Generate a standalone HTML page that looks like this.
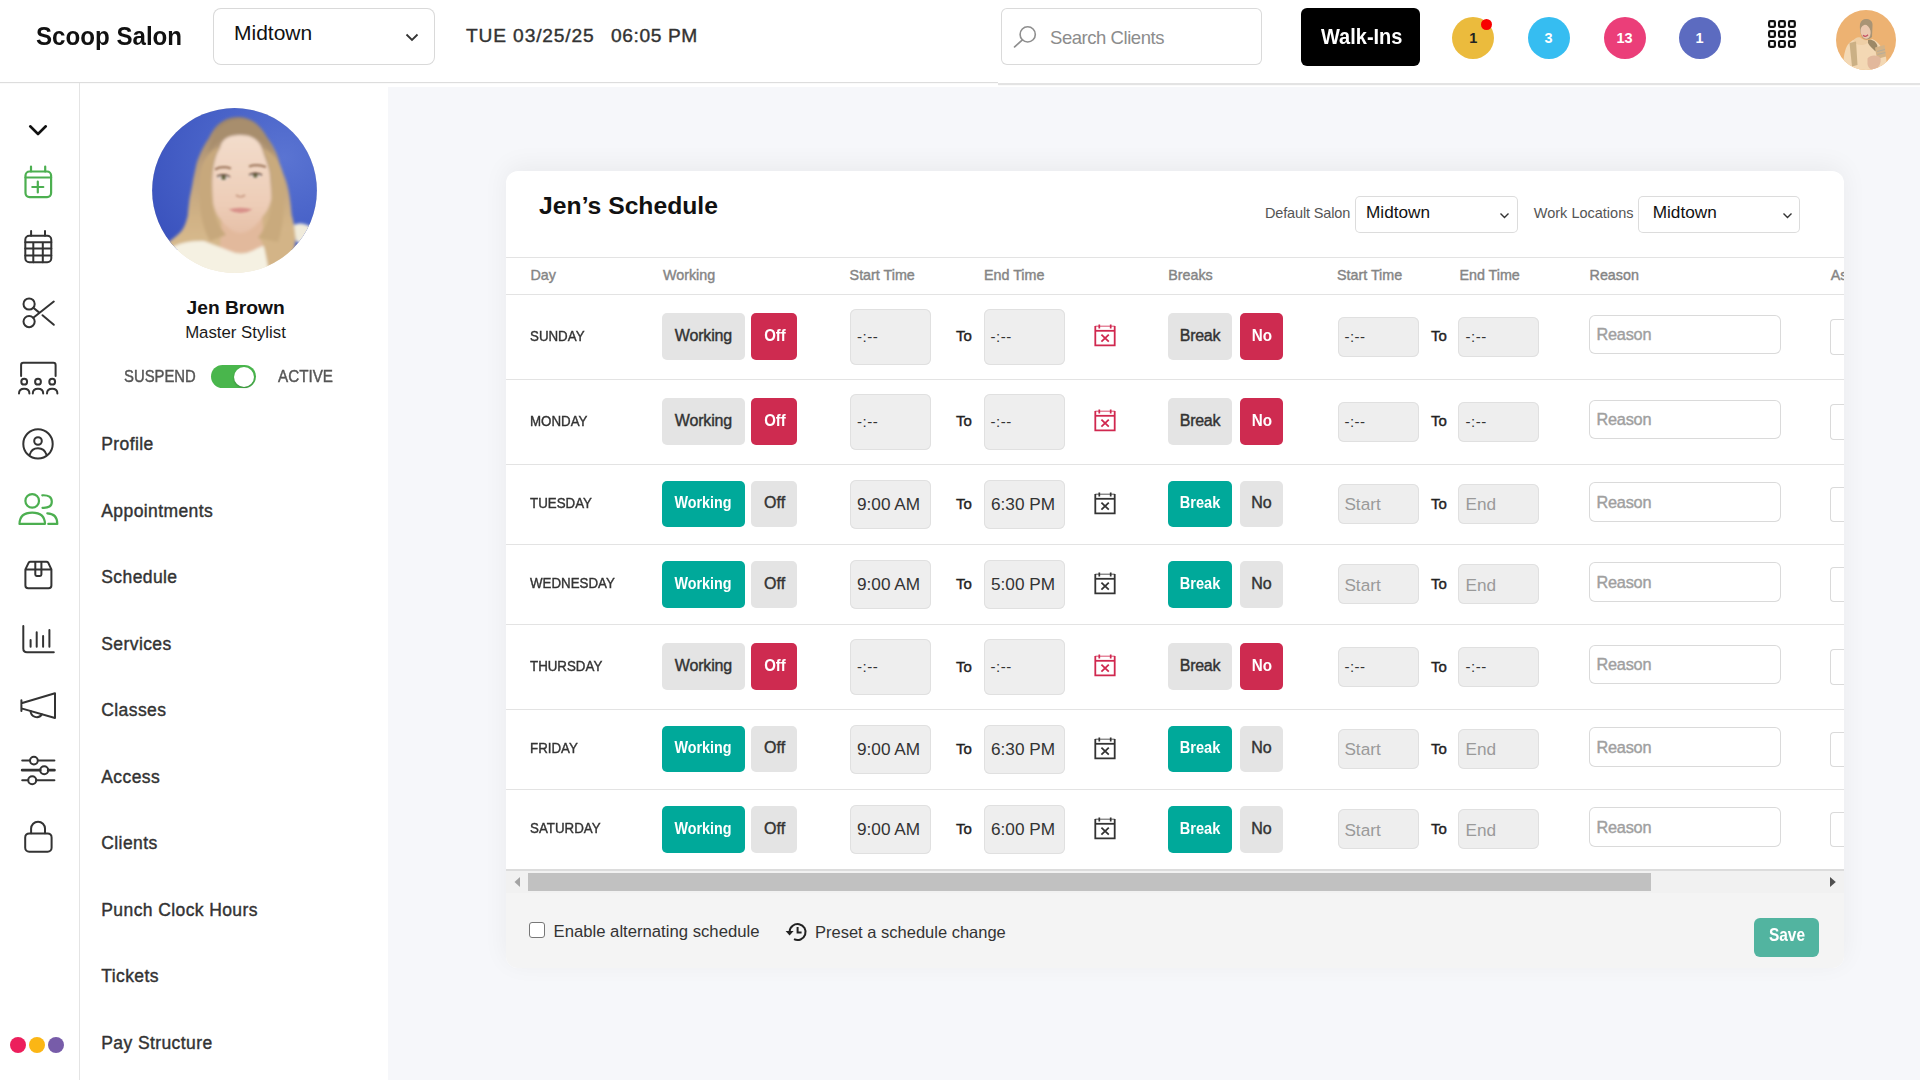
<!DOCTYPE html><html><head><meta charset="utf-8"><style>
html,body{margin:0;padding:0;width:1920px;height:1080px;overflow:hidden;background:#fff;font-family:"Liberation Sans",sans-serif;}
.t{position:absolute;line-height:1;white-space:nowrap;}
.r{position:absolute;box-sizing:border-box;}
svg{position:absolute;overflow:visible;}
</style></head><body>
<div class="r" style="left:388.00px;top:87.00px;width:1532.00px;height:993.00px;background:#F6F7FA;"></div>
<div class="r" style="left:0.00px;top:82.00px;width:998.00px;height:1.20px;background:#DDDDDD;box-shadow:0 0.5px 1px rgba(0,0,0,0.05)"></div>
<div class="r" style="left:998.00px;top:83.30px;width:922.00px;height:1.50px;background:#E3E3E3;box-shadow:0 0.5px 1px rgba(0,0,0,0.04)"></div>
<div class="r" style="left:79.00px;top:83.00px;width:1.00px;height:997.00px;background:#E4E4E4;"></div>
<div class="t" style="left:35.60px;top:22.57px;font-size:26.5px;font-weight:700;color:#111;transform:scaleX(0.91);transform-origin:0 50%;">Scoop Salon</div>
<div class="r" style="left:213.00px;top:8.00px;width:222.00px;height:57.00px;background:#fff;box-shadow:inset 0 0 0 1px #D9D9D9;border-radius:8px;"></div>
<div class="t" style="left:234.00px;top:22.22px;font-size:21px;color:#111;">Midtown</div>
<svg style="left:405px;top:33px" width="14" height="9"><path d="M1.5 1.5 L7 7 L12.5 1.5" fill="none" stroke="#333" stroke-width="1.8"/></svg>
<div class="t" style="left:466.00px;top:25.75px;font-size:19.2px;-webkit-text-stroke:0.4px #333;color:#333;letter-spacing:0.85px;">TUE 03/25/25</div>
<div class="t" style="left:611.00px;top:25.75px;font-size:19.2px;-webkit-text-stroke:0.4px #333;color:#333;letter-spacing:0.6px;">06:05 PM</div>
<div class="r" style="left:1001.00px;top:8.00px;width:261.00px;height:57.00px;background:#fff;box-shadow:inset 0 0 0 1px #DADADA;border-radius:6px;"></div>
<svg style="left:1012px;top:24px" width="28" height="26"><circle cx="15.7" cy="10.4" r="7.6" fill="none" stroke="#8E8E8E" stroke-width="1.6"/><path d="M10.4 15.9 L2.6 22.9" stroke="#8E8E8E" stroke-width="1.7" stroke-linecap="round"/></svg>
<div class="t" style="left:1050.00px;top:28.54px;font-size:18.5px;color:#8C8C8C;letter-spacing:-0.45px;">Search Clients</div>
<div class="r" style="left:1301.00px;top:8.00px;width:119.00px;height:58.00px;background:#000;border-radius:6px;"></div>
<div class="t" style="left:1320.50px;top:25.12px;font-size:22.9px;font-weight:700;color:#fff;transform:scaleX(0.873);transform-origin:0 50%;">Walk-Ins</div>
<div class="r" style="left:1452.3px;top:17.2px;width:42px;height:42px;border-radius:50%;background:#EBBB3D"></div>
<div class="t" style="left:1173.30px;width:600px;text-align:center;top:30.93px;font-size:14.5px;color:#222;font-weight:700;">1</div>
<div class="r" style="left:1527.5px;top:17.2px;width:42px;height:42px;border-radius:50%;background:#36BDF1"></div>
<div class="t" style="left:1248.50px;width:600px;text-align:center;top:30.93px;font-size:14.5px;color:#fff;font-weight:700;">3</div>
<div class="r" style="left:1603.5px;top:17.2px;width:42px;height:42px;border-radius:50%;background:#EB3E79"></div>
<div class="t" style="left:1324.50px;width:600px;text-align:center;top:30.93px;font-size:14.5px;color:#fff;font-weight:700;">13</div>
<div class="r" style="left:1678.6px;top:17.2px;width:42px;height:42px;border-radius:50%;background:#5C6BC0"></div>
<div class="t" style="left:1399.60px;width:600px;text-align:center;top:30.93px;font-size:14.5px;color:#fff;font-weight:700;">1</div>
<div class="r" style="left:1481.2px;top:18.7px;width:11px;height:11px;border-radius:50%;background:#F80000"></div>
<svg style="left:1767.6px;top:19.8px" width="30" height="30"><rect x="1.10" y="1.10" width="5.8" height="5.8" rx="1.3" fill="none" stroke="#111" stroke-width="2.2"/><rect x="1.10" y="11.05" width="5.8" height="5.8" rx="1.3" fill="none" stroke="#111" stroke-width="2.2"/><rect x="1.10" y="21.00" width="5.8" height="5.8" rx="1.3" fill="none" stroke="#111" stroke-width="2.2"/><rect x="11.05" y="1.10" width="5.8" height="5.8" rx="1.3" fill="none" stroke="#111" stroke-width="2.2"/><rect x="11.05" y="11.05" width="5.8" height="5.8" rx="1.3" fill="none" stroke="#111" stroke-width="2.2"/><rect x="11.05" y="21.00" width="5.8" height="5.8" rx="1.3" fill="none" stroke="#111" stroke-width="2.2"/><rect x="21.00" y="1.10" width="5.8" height="5.8" rx="1.3" fill="none" stroke="#111" stroke-width="2.2"/><rect x="21.00" y="11.05" width="5.8" height="5.8" rx="1.3" fill="none" stroke="#111" stroke-width="2.2"/><rect x="21.00" y="21.00" width="5.8" height="5.8" rx="1.3" fill="none" stroke="#111" stroke-width="2.2"/></svg>
<svg style="left:1836px;top:10px" width="60" height="60" viewBox="0 0 60 60">
<defs><clipPath id="ac"><circle cx="30" cy="30" r="30"/></clipPath>
<filter id="ab" x="-10%" y="-10%" width="120%" height="120%"><feGaussianBlur stdDeviation="0.6"/></filter></defs>
<g clip-path="url(#ac)">
<rect width="60" height="60" fill="#EDB272"/>
<g filter="url(#ab)">
<path d="M24 14 C25 10 28 8.5 31 9 C35 9.5 37 12 36.5 16 L36 27 C34 29 31 30 28 29 L26 27 C24 22 23.5 18 24 14 Z" fill="#A99475"/>
<ellipse cx="29.6" cy="21.8" rx="5" ry="7" transform="rotate(-12 29.6 21.8)" fill="#EBC8AF"/>
<path d="M27 25.3 Q29.5 27.5 32 24.8" stroke="#C4505E" stroke-width="1.3" fill="#F6F1EE"/>
<path d="M7.5 62 C7 50 8 42 11 36 C14 31 19 28.5 24 28 C28 31 32 31.5 36 29 C42 31 47 38 50 47 C51 54 51 58 50 62 Z" fill="#F3D8B4"/>
<path d="M17 31 C19 27.5 22 26.5 24.5 27.5 C27 30 31 31.5 35 29.5 C33 33 29 35 25 35 C21.5 35 19 33.5 17 31 Z" fill="#EECFA6"/>
<path d="M13.5 33 L20 31.5 L21.5 55 L16 56.5 Z" fill="#CBB085"/>
<path d="M32 30 C36 29 40 31 41.5 36 L39.5 41.5 C36.5 38.5 33.5 36 32 33 Z" fill="#9C8866"/>
<path d="M39 37.5 L48.5 35 L50 46.5 L41 49 Z" fill="#D4B387"/>
<path d="M41 41.5 L49 39.5 M41.5 44.5 L49.3 42.5" stroke="#B9AC98" stroke-width="1.2"/>
<path d="M31.5 48.5 C34 45 41 44.5 44.5 48 C45.5 53 43 58 38 60 C34 60 31 56.5 31.5 52 Z" fill="#E2B89C"/>
</g></g></svg>
<svg style="left:0;top:0" width="80" height="1080"><path d="M30.2 126.3 L38 134 L45.8 126.3" fill="none" stroke="#111" stroke-width="2.6" stroke-linecap="round" stroke-linejoin="round"/><rect x="25.5" y="171.5" width="25.6" height="25.6" rx="4" fill="none" stroke="#4CAF50" stroke-width="2.2" stroke-linecap="round" stroke-linejoin="round"/><path d="M25.5 177.5 H51.1 M31 166.5 V171.5 M45.2 166.5 V171.5 M37.8 181.5 V192.5 M32.3 187 H43.3" fill="none" stroke="#4CAF50" stroke-width="2.2" stroke-linecap="round" stroke-linejoin="round"/><rect x="25.3" y="235.8" width="26" height="26.4" rx="4" fill="none" stroke="#333" stroke-width="2" stroke-linecap="round" stroke-linejoin="round"/><path d="M25.3 242.2 H51.3 M25.3 248.6 H51.3 M25.3 255.4 H51.3 M33.3 242.2 V262.2 M42.8 242.2 V262.2 M31.1 231 V235.8 M45 231 V235.8" fill="none" stroke="#333" stroke-width="2" stroke-linecap="round" stroke-linejoin="round"/><circle cx="29.1" cy="304" r="5.6" fill="none" stroke="#333" stroke-width="2" stroke-linecap="round" stroke-linejoin="round"/><circle cx="29.1" cy="321.6" r="5.6" fill="none" stroke="#333" stroke-width="2" stroke-linecap="round" stroke-linejoin="round"/><path d="M33.3 317.8 L53.8 301.5 M33.3 307.8 L39 312.4 M42.5 315.2 L53.8 324.8" fill="none" stroke="#333" stroke-width="2" stroke-linecap="round" stroke-linejoin="round"/><path d="M21.1 376 V365 Q21.1 362.8 23.3 362.8 H53.4 Q55.6 362.8 55.6 365 V376" fill="none" stroke="#333" stroke-width="2" stroke-linecap="round" stroke-linejoin="round"/><circle cx="24.2" cy="381.7" r="2.9" fill="none" stroke="#333" stroke-width="2" stroke-linecap="round" stroke-linejoin="round"/><circle cx="38" cy="381.7" r="2.9" fill="none" stroke="#333" stroke-width="2" stroke-linecap="round" stroke-linejoin="round"/><circle cx="52.2" cy="381.7" r="2.9" fill="none" stroke="#333" stroke-width="2" stroke-linecap="round" stroke-linejoin="round"/><path d="M19 393.5 Q19 388.8 24.2 388.8 Q29.4 388.8 29.4 393.5 M32.8 393.5 Q32.8 388.8 38 388.8 Q43.2 388.8 43.2 393.5 M47 393.5 Q47 388.8 52.2 388.8 Q57.4 388.8 57.4 393.5" fill="none" stroke="#333" stroke-width="2" stroke-linecap="round" stroke-linejoin="round"/><circle cx="38" cy="443.9" r="14.7" fill="none" stroke="#333" stroke-width="2" stroke-linecap="round" stroke-linejoin="round"/><circle cx="38" cy="441" r="3.8" fill="none" stroke="#333" stroke-width="2" stroke-linecap="round" stroke-linejoin="round"/><path d="M29.6 455 Q31.5 448.3 38 448.3 Q44.5 448.3 46.6 455" fill="none" stroke="#333" stroke-width="2" stroke-linecap="round" stroke-linejoin="round"/><circle cx="32.2" cy="500.9" r="6.8" fill="none" stroke="#4CAF50" stroke-width="2.2" stroke-linecap="round" stroke-linejoin="round"/><path d="M19.5 523.9 Q19.7 512.6 32.2 512.6 Q44.7 512.6 45 523.9 Z" fill="none" stroke="#4CAF50" stroke-width="2.2" stroke-linecap="round" stroke-linejoin="round"/><path d="M42.3 495.3 Q51.8 494.8 51.8 501.7 Q51.8 508.3 42.5 507.8" fill="none" stroke="#4CAF50" stroke-width="2.2" stroke-linecap="round" stroke-linejoin="round"/><path d="M47.3 513.4 Q57.3 513.8 57.3 523.9 H48.3" fill="none" stroke="#4CAF50" stroke-width="2.2" stroke-linecap="round" stroke-linejoin="round"/><path d="M25.4 569.4 V585.4 Q25.4 588.2 28.2 588.2 H48.6 Q51.4 588.2 51.4 585.4 V569.4 L48.2 562.6 Q47.6 561.8 46.5 561.8 H30.4 Q29.3 561.8 28.7 562.6 Z M25.4 569.4 H51.4" fill="none" stroke="#333" stroke-width="2" stroke-linecap="round" stroke-linejoin="round"/><path d="M35.3 562 V574.6 Q35.3 576 36.7 576 H40 Q41.4 576 41.4 574.6 V562" fill="none" stroke="#333" stroke-width="2" stroke-linecap="round" stroke-linejoin="round"/><path d="M23.3 626 V648.5 Q23.3 652.2 27 652.2 H53.8 M30.6 640 V646.7 M36.7 632.3 V646.7 M43.1 636.1 V646.7 M49.4 630 V646.7" fill="none" stroke="#333" stroke-width="2" stroke-linecap="round" stroke-linejoin="round"/><path d="M21.4 700.3 V711 M21.4 703.2 L55 693.2 V718 L21.4 708.4" fill="none" stroke="#333" stroke-width="2" stroke-linecap="round" stroke-linejoin="round"/><path d="M30.6 711.1 A6.1 6.1 0 0 0 41.8 714.4" fill="none" stroke="#333" stroke-width="2" stroke-linecap="round" stroke-linejoin="round"/><path d="M22.2 760.6 H30 M37.9 760.6 H54.4 M22.2 780.2 H28.2 M36.2 780.2 H54.4" fill="none" stroke="#333" stroke-width="2" stroke-linecap="round" stroke-linejoin="round"/><path d="M22.2 770.2 H40.2 M48.2 770.2 H54.4" fill="none" stroke="#333" stroke-width="2.8" stroke-linecap="round"/><circle cx="33.9" cy="760.6" r="3.9" fill="none" stroke="#333" stroke-width="2" stroke-linecap="round" stroke-linejoin="round"/><circle cx="44.2" cy="770.2" r="4" fill="none" stroke="#333" stroke-width="2" stroke-linecap="round" stroke-linejoin="round"/><circle cx="32.2" cy="780.2" r="4" fill="none" stroke="#333" stroke-width="2" stroke-linecap="round" stroke-linejoin="round"/><path d="M31.1 833.3 V828.6 A6.9 6.9 0 0 1 45 828.6 V833.3" fill="none" stroke="#333" stroke-width="2" stroke-linecap="round" stroke-linejoin="round"/><rect x="25.2" y="833.4" width="26.4" height="18.3" rx="4" fill="none" stroke="#333" stroke-width="2" stroke-linecap="round" stroke-linejoin="round"/></svg>
<div class="r" style="left:10.3px;top:1037.3px;width:16px;height:16px;border-radius:50%;background:#EC1F5C"></div>
<div class="r" style="left:29.2px;top:1037.3px;width:16px;height:16px;border-radius:50%;background:#FBB615"></div>
<div class="r" style="left:48.4px;top:1037.3px;width:16px;height:16px;border-radius:50%;background:#775CA9"></div>
<svg style="left:152px;top:107.7px" width="165" height="165" viewBox="0 0 165 165">
<defs>
<clipPath id="pc"><circle cx="82.5" cy="82.5" r="82.4"/></clipPath>
<filter id="bl" x="-20%" y="-20%" width="140%" height="140%"><feGaussianBlur stdDeviation="1.5"/></filter>
<filter id="bl2" x="-50%" y="-50%" width="200%" height="200%"><feGaussianBlur stdDeviation="0.8"/></filter>
<radialGradient id="bg1" cx="0.8" cy="0.35" r="0.9"><stop offset="0" stop-color="#5A74D2"/><stop offset="0.55" stop-color="#4862C8"/><stop offset="1" stop-color="#3B53BE"/></radialGradient>
<linearGradient id="hg" x1="0" y1="0" x2="0" y2="1"><stop offset="0" stop-color="#9D8468"/><stop offset="0.3" stop-color="#BC9F7C"/><stop offset="0.65" stop-color="#D2B386"/><stop offset="1" stop-color="#DCC296"/></linearGradient>
<linearGradient id="fg" x1="0" y1="0" x2="0" y2="1"><stop offset="0" stop-color="#F3DCCB"/><stop offset="0.7" stop-color="#EDCDB7"/><stop offset="1" stop-color="#E6C0A8"/></linearGradient>
</defs>
<g clip-path="url(#pc)">
<rect width="165" height="165" fill="#EFE6D2"/>
<rect width="165" height="142" fill="url(#bg1)"/>
<g filter="url(#bl)">
<path d="M86 9 C72 9 62 18 57 30 C50 40 45 52 43.6 60 C42 68 41 72 40.5 76 C39 84 38 88 37.4 92 C36.5 100 36 104 35.8 107.5 C34 115 32 120 29.5 123 C25 128 20 131 15 136 L10 170 L120 170 C130 150 138 140 143 121 C141 112 140 108 139.7 107.5 C139 100 138.5 95 138 91.7 C137 84 136 80 135 76 C133 68 130 64 128.6 60 C127 52 125.5 48 124 44.5 C120 36 117 32 114.5 28.8 C108 16 98 9 86 9 Z" fill="url(#hg)"/>
<path d="M70 106 L68 140 Q89 150 112 140 L110 106 Z" fill="#E2B99C"/>
<path d="M4 152 C16 139 30 132 52 133 C60 136 70 140 78 143 Q89 148 100 143 C106 140 110 138 112 138 L118 170 L2 170 Z" fill="#F5F1E2"/>
<path d="M106 128 C113 138 117 150 117 170 L142 170 C141 150 143 135 145 121 Z" fill="#D3B487"/>
<path d="M142 117 C150 113 158 117 166 125 L166 146 L144 133 Z" fill="#F0EBDB"/>
<path d="M68 40 C70 30 78 27 88 27 C99 27 108 31 111 44 C115 55 118 62 118 70 C119 82 119.5 88 119 92 C117 100 114 105 111 108 C105 118 96 125 88.5 125 C81 125 73 118 66 108 C62.5 102 61 96 61 92 C60.5 85 60 75 60.5 68 C61.5 55 64 46 68 40 Z" fill="url(#fg)"/>
<path d="M68 38 C62 48 58.5 60 59 75 C59.5 90 61 100 64 110 C66 116 70 122 74 127 L58 133 C49 118 46.5 95 47.5 72 C48.5 55 55 44 68 38 Z" fill="#C7A87C"/>
<path d="M110 40 C116 50 119.5 62 120.5 75 C121 90 120 100 116.5 110 C114 118 110 124 106 130 L126 134 C132 118 133 95 132 72 C131 58 124 46 110 40 Z" fill="#C9AA7D"/>
<path d="M56 46 C60 25 72 11 88 11 C104 11 116 24 121 46 C114 35 104 28 98 27.5 C94 25 90 23 88 25 C86 23 82 25 78 27.5 C72 29 62 35 56 46 Z" fill="#A88E6D"/>
</g>
<g filter="url(#bl2)">
<path d="M63 61.5 Q70 57.5 79 60.5" stroke="#A27C62" stroke-width="2.2" fill="none"/>
<path d="M97 58.5 Q105 55.5 114 59" stroke="#A27C62" stroke-width="2.2" fill="none"/>
<ellipse cx="71.2" cy="69.7" rx="5.8" ry="2.6" fill="#E6D6CC"/><circle cx="71.6" cy="69.6" r="2.5" fill="#6A6B45"/>
<ellipse cx="103.5" cy="67.3" rx="5.8" ry="2.6" fill="#E6D6CC"/><circle cx="103.3" cy="67.2" r="2.5" fill="#6A6B45"/>
<path d="M65 68.5 Q71.5 65 78 68.8" stroke="#5A3E30" stroke-width="1.5" fill="none"/>
<path d="M97 66.8 Q103.5 63.5 110 67" stroke="#5A3E30" stroke-width="1.5" fill="none"/>
<path d="M84 87 Q88.5 90.5 93 87" stroke="#C79A82" stroke-width="1.7" fill="none"/>
<path d="M76.5 101.5 Q88.5 98 100.5 101.5 Q88.5 108.5 76.5 101.5 Z" fill="#D8918A"/>
</g>
</g></svg>
<div class="t" style="left:-64.40px;width:600px;text-align:center;top:297.50px;font-size:19.2px;color:#111;font-weight:700;">Jen Brown</div>
<div class="t" style="left:-64.50px;width:600px;text-align:center;top:324.53px;font-size:16.8px;color:#1a1a1a;font-weight:400;">Master Stylist</div>
<div class="t" style="left:123.75px;top:369.21px;font-size:15.7px;-webkit-text-stroke:0.4px #555;color:#555;transform:scaleX(0.947);transform-origin:0 50%;">SUSPEND</div>
<div class="t" style="left:278.00px;top:369.21px;font-size:15.7px;-webkit-text-stroke:0.4px #555;color:#555;transform:scaleX(0.97);transform-origin:0 50%;">ACTIVE</div>
<div class="r" style="left:211.20px;top:365.20px;width:44.40px;height:23.00px;background:#49B64C;border-radius:11.5px;"></div>
<div class="r" style="left:234.2px;top:366.9px;width:20px;height:20px;border-radius:50%;background:#fff;box-shadow:0 1px 2px rgba(0,0,0,.25)"></div>
<div class="t" style="left:101.30px;top:436.19px;font-size:17.5px;-webkit-text-stroke:0.4px #333;color:#333;letter-spacing:0.4px;">Profile</div>
<div class="t" style="left:101.30px;top:502.69px;font-size:17.5px;-webkit-text-stroke:0.4px #333;color:#333;letter-spacing:0.4px;">Appointments</div>
<div class="t" style="left:101.30px;top:569.19px;font-size:17.5px;-webkit-text-stroke:0.4px #333;color:#333;letter-spacing:0.4px;">Schedule</div>
<div class="t" style="left:101.30px;top:635.69px;font-size:17.5px;-webkit-text-stroke:0.4px #333;color:#333;letter-spacing:0.4px;">Services</div>
<div class="t" style="left:101.30px;top:702.19px;font-size:17.5px;-webkit-text-stroke:0.4px #333;color:#333;letter-spacing:0.4px;">Classes</div>
<div class="t" style="left:101.30px;top:768.69px;font-size:17.5px;-webkit-text-stroke:0.4px #333;color:#333;letter-spacing:0.4px;">Access</div>
<div class="t" style="left:101.30px;top:835.19px;font-size:17.5px;-webkit-text-stroke:0.4px #333;color:#333;letter-spacing:0.4px;">Clients</div>
<div class="t" style="left:101.30px;top:901.69px;font-size:17.5px;-webkit-text-stroke:0.4px #333;color:#333;letter-spacing:0.4px;">Punch Clock Hours</div>
<div class="t" style="left:101.30px;top:968.19px;font-size:17.5px;-webkit-text-stroke:0.4px #333;color:#333;letter-spacing:0.4px;">Tickets</div>
<div class="t" style="left:101.30px;top:1034.69px;font-size:17.5px;-webkit-text-stroke:0.4px #333;color:#333;letter-spacing:0.4px;">Pay Structure</div>
<div class="r" style="left:505.5px;top:170.7px;width:1338.5px;height:797.5px;background:#fff;border-radius:12px;box-shadow:0 -5px 26px rgba(0,0,0,0.055);overflow:hidden"><div class="r" style="left:0;top:722.0px;width:100%;height:75.5px;background:#F4F4F4"></div></div>
<div class="t" style="left:539.10px;top:193.79px;font-size:24.7px;font-weight:700;color:#111;">Jen’s Schedule</div>
<div class="t" style="left:1265.00px;top:205.73px;font-size:14.5px;color:#555;letter-spacing:-0.15px;">Default Salon</div>
<div class="r" style="left:1354.60px;top:196.00px;width:163.00px;height:36.50px;background:#fff;box-shadow:inset 0 0 0 1px #DCDCDC;border-radius:5px;"></div>
<div class="t" style="left:1366.00px;top:204.44px;font-size:17.2px;color:#111;">Midtown</div>
<svg style="left:1498.5px;top:211.5px" width="12" height="8"><path d="M1.5 1.5 L5.5 5.5 L9.5 1.5" fill="none" stroke="#333" stroke-width="1.4"/></svg>
<div class="t" style="left:1533.80px;top:205.73px;font-size:14.5px;color:#555;">Work Locations</div>
<div class="r" style="left:1637.80px;top:196.00px;width:162.60px;height:36.50px;background:#fff;box-shadow:inset 0 0 0 1px #DCDCDC;border-radius:5px;"></div>
<div class="t" style="left:1652.70px;top:204.44px;font-size:17.2px;color:#111;">Midtown</div>
<svg style="left:1781.5px;top:211.5px" width="12" height="8"><path d="M1.5 1.5 L5.5 5.5 L9.5 1.5" fill="none" stroke="#333" stroke-width="1.4"/></svg>
<div class="r" style="left:505.50px;top:256.70px;width:1338.50px;height:1.20px;background:#E3E3E3;"></div>
<div class="r" style="left:505.50px;top:293.50px;width:1338.50px;height:1.20px;background:#E3E3E3;"></div>
<div class="r" style="left:505.50px;top:378.50px;width:1338.50px;height:1.20px;background:#E3E3E3;"></div>
<div class="r" style="left:505.50px;top:463.50px;width:1338.50px;height:1.20px;background:#E3E3E3;"></div>
<div class="r" style="left:505.50px;top:543.50px;width:1338.50px;height:1.20px;background:#E3E3E3;"></div>
<div class="r" style="left:505.50px;top:624.00px;width:1338.50px;height:1.20px;background:#E3E3E3;"></div>
<div class="r" style="left:505.50px;top:708.50px;width:1338.50px;height:1.20px;background:#E3E3E3;"></div>
<div class="r" style="left:505.50px;top:788.50px;width:1338.50px;height:1.20px;background:#E3E3E3;"></div>
<div class="t" style="left:530.40px;top:267.50px;font-size:14.3px;-webkit-text-stroke:0.4px #858585;color:#858585;">Day</div>
<div class="t" style="left:663.00px;top:267.50px;font-size:14.3px;-webkit-text-stroke:0.4px #858585;color:#858585;">Working</div>
<div class="t" style="left:849.60px;top:267.50px;font-size:14.3px;-webkit-text-stroke:0.4px #858585;color:#858585;">Start Time</div>
<div class="t" style="left:984.00px;top:267.50px;font-size:14.3px;-webkit-text-stroke:0.4px #858585;color:#858585;">End Time</div>
<div class="t" style="left:1168.20px;top:267.50px;font-size:14.3px;-webkit-text-stroke:0.4px #858585;color:#858585;">Breaks</div>
<div class="t" style="left:1337.00px;top:267.50px;font-size:14.3px;-webkit-text-stroke:0.4px #858585;color:#858585;">Start Time</div>
<div class="t" style="left:1459.40px;top:267.50px;font-size:14.3px;-webkit-text-stroke:0.4px #858585;color:#858585;">End Time</div>
<div class="t" style="left:1589.60px;top:267.50px;font-size:14.3px;-webkit-text-stroke:0.4px #858585;color:#858585;">Reason</div>
<div class="t" style="left:530.40px;top:328.57px;font-size:14.8px;-webkit-text-stroke:0.4px #333;color:#333;transform:scaleX(0.9);transform-origin:0 50%;">SUNDAY</div>
<div class="r" style="left:662.30px;top:313.10px;width:82.40px;height:46.80px;background:#E4E4E4;border-radius:5px;"></div>
<div class="r" style="left:751.00px;top:313.10px;width:46.00px;height:46.80px;background:#CE2B50;border-radius:5px;"></div>
<div class="t" style="left:403.40px;width:600px;text-align:center;top:327.86px;font-size:16px;color:#333;letter-spacing:-0.15px;-webkit-text-stroke:0.4px #333;">Working</div>
<div class="t" style="left:474.60px;width:600px;text-align:center;top:327.86px;font-size:16px;color:#fff;font-weight:700;transform:scaleX(0.935);transform-origin:50% 50%;">Off</div>
<div class="r" style="left:850.30px;top:308.50px;width:81.00px;height:56.00px;background:#EEEEEE;box-shadow:inset 0 0 0 1px #E0E0E0;border-radius:6px;"></div>
<div class="r" style="left:983.80px;top:308.50px;width:81.00px;height:56.00px;background:#EEEEEE;box-shadow:inset 0 0 0 1px #E0E0E0;border-radius:6px;"></div>
<div class="t" style="left:857.00px;top:328.80px;font-size:15px;color:#333;letter-spacing:0.5px;">-:--</div>
<div class="t" style="left:990.50px;top:328.80px;font-size:15px;color:#333;letter-spacing:0.5px;">-:--</div>
<div class="t" style="left:956.00px;top:328.40px;font-size:15px;-webkit-text-stroke:0.4px #222;color:#222;">To</div>
<svg style="left:1093.5px;top:325.1px" width="22" height="22" viewBox="0 0 22 22"><path d="M1.3 0.9 V20.3 H20.7 V0.9" fill="none" stroke="#D0284F" stroke-width="1.8"/><path d="M1.3 1.2 H20.7" fill="none" stroke="#D0284F" stroke-width="1.1" opacity="0.75"/><path d="M1.3 5.8 H20.7" fill="none" stroke="#D0284F" stroke-width="1.8"/><path d="M5.3 -0.6 V3.4 M16.7 -0.6 V3.4" fill="none" stroke="#D0284F" stroke-width="1.7"/><path d="M7.4 9.6 L14.8 16.6 M14.8 9.6 L7.4 16.6" fill="none" stroke="#D0284F" stroke-width="1.8"/></svg>
<div class="r" style="left:1167.90px;top:313.10px;width:64.00px;height:46.80px;background:#E4E4E4;border-radius:5px;"></div>
<div class="r" style="left:1239.60px;top:313.10px;width:43.70px;height:46.80px;background:#CE2B50;border-radius:5px;"></div>
<div class="t" style="left:900.00px;width:600px;text-align:center;top:327.86px;font-size:16px;color:#333;letter-spacing:-0.3px;-webkit-text-stroke:0.4px #333;">Break</div>
<div class="t" style="left:961.50px;width:600px;text-align:center;top:327.86px;font-size:16px;color:#fff;font-weight:700;transform:scaleX(0.95);transform-origin:50% 50%;">No</div>
<div class="r" style="left:1337.50px;top:316.50px;width:81.00px;height:40.00px;background:#EEEEEE;box-shadow:inset 0 0 0 1px #E0E0E0;border-radius:6px;"></div>
<div class="r" style="left:1458.30px;top:316.50px;width:81.00px;height:40.00px;background:#EEEEEE;box-shadow:inset 0 0 0 1px #E0E0E0;border-radius:6px;"></div>
<div class="t" style="left:1344.40px;top:328.80px;font-size:15px;color:#333;letter-spacing:0.5px;">-:--</div>
<div class="t" style="left:1465.50px;top:328.80px;font-size:15px;color:#333;letter-spacing:0.5px;">-:--</div>
<div class="t" style="left:1431.00px;top:328.40px;font-size:15px;-webkit-text-stroke:0.4px #222;color:#222;">To</div>
<div class="r" style="left:1589.30px;top:314.50px;width:192.20px;height:39.60px;background:#fff;box-shadow:inset 0 0 0 1px #DADADA;border-radius:6px;"></div>
<div class="t" style="left:1596.40px;top:326.20px;font-size:16.3px;-webkit-text-stroke:0.4px #A0A0A0;color:#A0A0A0;letter-spacing:-0.2px;">Reason</div>
<div class="r" style="left:1830px;top:319.20px;width:14px;height:35.5px;border:1px solid #DADADA;border-right:none;border-radius:4px 0 0 4px;background:#fff"></div>
<div class="t" style="left:530.40px;top:413.57px;font-size:14.8px;-webkit-text-stroke:0.4px #333;color:#333;transform:scaleX(0.9);transform-origin:0 50%;">MONDAY</div>
<div class="r" style="left:662.30px;top:398.10px;width:82.40px;height:46.80px;background:#E4E4E4;border-radius:5px;"></div>
<div class="r" style="left:751.00px;top:398.10px;width:46.00px;height:46.80px;background:#CE2B50;border-radius:5px;"></div>
<div class="t" style="left:403.40px;width:600px;text-align:center;top:412.86px;font-size:16px;color:#333;letter-spacing:-0.15px;-webkit-text-stroke:0.4px #333;">Working</div>
<div class="t" style="left:474.60px;width:600px;text-align:center;top:412.86px;font-size:16px;color:#fff;font-weight:700;transform:scaleX(0.935);transform-origin:50% 50%;">Off</div>
<div class="r" style="left:850.30px;top:393.50px;width:81.00px;height:56.00px;background:#EEEEEE;box-shadow:inset 0 0 0 1px #E0E0E0;border-radius:6px;"></div>
<div class="r" style="left:983.80px;top:393.50px;width:81.00px;height:56.00px;background:#EEEEEE;box-shadow:inset 0 0 0 1px #E0E0E0;border-radius:6px;"></div>
<div class="t" style="left:857.00px;top:413.80px;font-size:15px;color:#333;letter-spacing:0.5px;">-:--</div>
<div class="t" style="left:990.50px;top:413.80px;font-size:15px;color:#333;letter-spacing:0.5px;">-:--</div>
<div class="t" style="left:956.00px;top:413.40px;font-size:15px;-webkit-text-stroke:0.4px #222;color:#222;">To</div>
<svg style="left:1093.5px;top:410.1px" width="22" height="22" viewBox="0 0 22 22"><path d="M1.3 0.9 V20.3 H20.7 V0.9" fill="none" stroke="#D0284F" stroke-width="1.8"/><path d="M1.3 1.2 H20.7" fill="none" stroke="#D0284F" stroke-width="1.1" opacity="0.75"/><path d="M1.3 5.8 H20.7" fill="none" stroke="#D0284F" stroke-width="1.8"/><path d="M5.3 -0.6 V3.4 M16.7 -0.6 V3.4" fill="none" stroke="#D0284F" stroke-width="1.7"/><path d="M7.4 9.6 L14.8 16.6 M14.8 9.6 L7.4 16.6" fill="none" stroke="#D0284F" stroke-width="1.8"/></svg>
<div class="r" style="left:1167.90px;top:398.10px;width:64.00px;height:46.80px;background:#E4E4E4;border-radius:5px;"></div>
<div class="r" style="left:1239.60px;top:398.10px;width:43.70px;height:46.80px;background:#CE2B50;border-radius:5px;"></div>
<div class="t" style="left:900.00px;width:600px;text-align:center;top:412.86px;font-size:16px;color:#333;letter-spacing:-0.3px;-webkit-text-stroke:0.4px #333;">Break</div>
<div class="t" style="left:961.50px;width:600px;text-align:center;top:412.86px;font-size:16px;color:#fff;font-weight:700;transform:scaleX(0.95);transform-origin:50% 50%;">No</div>
<div class="r" style="left:1337.50px;top:401.50px;width:81.00px;height:40.00px;background:#EEEEEE;box-shadow:inset 0 0 0 1px #E0E0E0;border-radius:6px;"></div>
<div class="r" style="left:1458.30px;top:401.50px;width:81.00px;height:40.00px;background:#EEEEEE;box-shadow:inset 0 0 0 1px #E0E0E0;border-radius:6px;"></div>
<div class="t" style="left:1344.40px;top:413.80px;font-size:15px;color:#333;letter-spacing:0.5px;">-:--</div>
<div class="t" style="left:1465.50px;top:413.80px;font-size:15px;color:#333;letter-spacing:0.5px;">-:--</div>
<div class="t" style="left:1431.00px;top:413.40px;font-size:15px;-webkit-text-stroke:0.4px #222;color:#222;">To</div>
<div class="r" style="left:1589.30px;top:399.50px;width:192.20px;height:39.60px;background:#fff;box-shadow:inset 0 0 0 1px #DADADA;border-radius:6px;"></div>
<div class="t" style="left:1596.40px;top:411.20px;font-size:16.3px;-webkit-text-stroke:0.4px #A0A0A0;color:#A0A0A0;letter-spacing:-0.2px;">Reason</div>
<div class="r" style="left:1830px;top:404.20px;width:14px;height:35.5px;border:1px solid #DADADA;border-right:none;border-radius:4px 0 0 4px;background:#fff"></div>
<div class="t" style="left:530.40px;top:496.07px;font-size:14.8px;-webkit-text-stroke:0.4px #333;color:#333;transform:scaleX(0.9);transform-origin:0 50%;">TUESDAY</div>
<div class="r" style="left:662.30px;top:480.60px;width:82.40px;height:46.80px;background:#00A99A;border-radius:5px;"></div>
<div class="r" style="left:751.00px;top:480.60px;width:46.00px;height:46.80px;background:#E4E4E4;border-radius:5px;"></div>
<div class="t" style="left:403.40px;width:600px;text-align:center;top:495.36px;font-size:16px;color:#fff;font-weight:700;transform:scaleX(0.895);transform-origin:50% 50%;">Working</div>
<div class="t" style="left:474.60px;width:600px;text-align:center;top:495.36px;font-size:16px;color:#333;-webkit-text-stroke:0.4px #333;">Off</div>
<div class="r" style="left:850.30px;top:479.50px;width:81.00px;height:49.00px;background:#EEEEEE;box-shadow:inset 0 0 0 1px #E0E0E0;border-radius:6px;"></div>
<div class="r" style="left:983.80px;top:479.50px;width:81.00px;height:49.00px;background:#EEEEEE;box-shadow:inset 0 0 0 1px #E0E0E0;border-radius:6px;"></div>
<div class="t" style="left:857.00px;top:495.94px;font-size:17.2px;color:#333;">9:00 AM</div>
<div class="t" style="left:991.00px;top:495.94px;font-size:17.2px;color:#333;">6:30 PM</div>
<div class="t" style="left:956.00px;top:495.90px;font-size:15px;-webkit-text-stroke:0.4px #222;color:#222;">To</div>
<svg style="left:1093.5px;top:492.6px" width="22" height="22" viewBox="0 0 22 22"><path d="M1.3 0.9 V20.3 H20.7 V0.9" fill="none" stroke="#333" stroke-width="1.8"/><path d="M1.3 1.2 H20.7" fill="none" stroke="#333" stroke-width="1.1" opacity="0.75"/><path d="M1.3 5.8 H20.7" fill="none" stroke="#333" stroke-width="1.8"/><path d="M5.3 -0.6 V3.4 M16.7 -0.6 V3.4" fill="none" stroke="#333" stroke-width="1.7"/><path d="M7.4 9.6 L14.8 16.6 M14.8 9.6 L7.4 16.6" fill="none" stroke="#333" stroke-width="1.8"/></svg>
<div class="r" style="left:1167.90px;top:480.60px;width:64.00px;height:46.80px;background:#00A99A;border-radius:5px;"></div>
<div class="r" style="left:1239.60px;top:480.60px;width:43.70px;height:46.80px;background:#E4E4E4;border-radius:5px;"></div>
<div class="t" style="left:900.00px;width:600px;text-align:center;top:495.36px;font-size:16px;color:#fff;font-weight:700;transform:scaleX(0.91);transform-origin:50% 50%;">Break</div>
<div class="t" style="left:961.50px;width:600px;text-align:center;top:495.36px;font-size:16px;color:#333;-webkit-text-stroke:0.4px #333;">No</div>
<div class="r" style="left:1337.50px;top:484.00px;width:81.00px;height:40.00px;background:#EEEEEE;box-shadow:inset 0 0 0 1px #E0E0E0;border-radius:6px;"></div>
<div class="r" style="left:1458.30px;top:484.00px;width:81.00px;height:40.00px;background:#EEEEEE;box-shadow:inset 0 0 0 1px #E0E0E0;border-radius:6px;"></div>
<div class="t" style="left:1344.40px;top:496.34px;font-size:17.2px;color:#9A9A9A;">Start</div>
<div class="t" style="left:1465.50px;top:496.34px;font-size:17.2px;color:#9A9A9A;">End</div>
<div class="t" style="left:1431.00px;top:495.90px;font-size:15px;-webkit-text-stroke:0.4px #222;color:#222;">To</div>
<div class="r" style="left:1589.30px;top:482.00px;width:192.20px;height:39.60px;background:#fff;box-shadow:inset 0 0 0 1px #DADADA;border-radius:6px;"></div>
<div class="t" style="left:1596.40px;top:493.70px;font-size:16.3px;-webkit-text-stroke:0.4px #A0A0A0;color:#A0A0A0;letter-spacing:-0.2px;">Reason</div>
<div class="r" style="left:1830px;top:486.70px;width:14px;height:35.5px;border:1px solid #DADADA;border-right:none;border-radius:4px 0 0 4px;background:#fff"></div>
<div class="t" style="left:530.40px;top:576.32px;font-size:14.8px;-webkit-text-stroke:0.4px #333;color:#333;transform:scaleX(0.9);transform-origin:0 50%;">WEDNESDAY</div>
<div class="r" style="left:662.30px;top:560.85px;width:82.40px;height:46.80px;background:#00A99A;border-radius:5px;"></div>
<div class="r" style="left:751.00px;top:560.85px;width:46.00px;height:46.80px;background:#E4E4E4;border-radius:5px;"></div>
<div class="t" style="left:403.40px;width:600px;text-align:center;top:575.61px;font-size:16px;color:#fff;font-weight:700;transform:scaleX(0.895);transform-origin:50% 50%;">Working</div>
<div class="t" style="left:474.60px;width:600px;text-align:center;top:575.61px;font-size:16px;color:#333;-webkit-text-stroke:0.4px #333;">Off</div>
<div class="r" style="left:850.30px;top:559.75px;width:81.00px;height:49.00px;background:#EEEEEE;box-shadow:inset 0 0 0 1px #E0E0E0;border-radius:6px;"></div>
<div class="r" style="left:983.80px;top:559.75px;width:81.00px;height:49.00px;background:#EEEEEE;box-shadow:inset 0 0 0 1px #E0E0E0;border-radius:6px;"></div>
<div class="t" style="left:857.00px;top:576.19px;font-size:17.2px;color:#333;">9:00 AM</div>
<div class="t" style="left:991.00px;top:576.19px;font-size:17.2px;color:#333;">5:00 PM</div>
<div class="t" style="left:956.00px;top:576.15px;font-size:15px;-webkit-text-stroke:0.4px #222;color:#222;">To</div>
<svg style="left:1093.5px;top:572.85px" width="22" height="22" viewBox="0 0 22 22"><path d="M1.3 0.9 V20.3 H20.7 V0.9" fill="none" stroke="#333" stroke-width="1.8"/><path d="M1.3 1.2 H20.7" fill="none" stroke="#333" stroke-width="1.1" opacity="0.75"/><path d="M1.3 5.8 H20.7" fill="none" stroke="#333" stroke-width="1.8"/><path d="M5.3 -0.6 V3.4 M16.7 -0.6 V3.4" fill="none" stroke="#333" stroke-width="1.7"/><path d="M7.4 9.6 L14.8 16.6 M14.8 9.6 L7.4 16.6" fill="none" stroke="#333" stroke-width="1.8"/></svg>
<div class="r" style="left:1167.90px;top:560.85px;width:64.00px;height:46.80px;background:#00A99A;border-radius:5px;"></div>
<div class="r" style="left:1239.60px;top:560.85px;width:43.70px;height:46.80px;background:#E4E4E4;border-radius:5px;"></div>
<div class="t" style="left:900.00px;width:600px;text-align:center;top:575.61px;font-size:16px;color:#fff;font-weight:700;transform:scaleX(0.91);transform-origin:50% 50%;">Break</div>
<div class="t" style="left:961.50px;width:600px;text-align:center;top:575.61px;font-size:16px;color:#333;-webkit-text-stroke:0.4px #333;">No</div>
<div class="r" style="left:1337.50px;top:564.25px;width:81.00px;height:40.00px;background:#EEEEEE;box-shadow:inset 0 0 0 1px #E0E0E0;border-radius:6px;"></div>
<div class="r" style="left:1458.30px;top:564.25px;width:81.00px;height:40.00px;background:#EEEEEE;box-shadow:inset 0 0 0 1px #E0E0E0;border-radius:6px;"></div>
<div class="t" style="left:1344.40px;top:576.59px;font-size:17.2px;color:#9A9A9A;">Start</div>
<div class="t" style="left:1465.50px;top:576.59px;font-size:17.2px;color:#9A9A9A;">End</div>
<div class="t" style="left:1431.00px;top:576.15px;font-size:15px;-webkit-text-stroke:0.4px #222;color:#222;">To</div>
<div class="r" style="left:1589.30px;top:562.25px;width:192.20px;height:39.60px;background:#fff;box-shadow:inset 0 0 0 1px #DADADA;border-radius:6px;"></div>
<div class="t" style="left:1596.40px;top:573.95px;font-size:16.3px;-webkit-text-stroke:0.4px #A0A0A0;color:#A0A0A0;letter-spacing:-0.2px;">Reason</div>
<div class="r" style="left:1830px;top:566.95px;width:14px;height:35.5px;border:1px solid #DADADA;border-right:none;border-radius:4px 0 0 4px;background:#fff"></div>
<div class="t" style="left:530.40px;top:658.82px;font-size:14.8px;-webkit-text-stroke:0.4px #333;color:#333;transform:scaleX(0.9);transform-origin:0 50%;">THURSDAY</div>
<div class="r" style="left:662.30px;top:643.35px;width:82.40px;height:46.80px;background:#E4E4E4;border-radius:5px;"></div>
<div class="r" style="left:751.00px;top:643.35px;width:46.00px;height:46.80px;background:#CE2B50;border-radius:5px;"></div>
<div class="t" style="left:403.40px;width:600px;text-align:center;top:658.11px;font-size:16px;color:#333;letter-spacing:-0.15px;-webkit-text-stroke:0.4px #333;">Working</div>
<div class="t" style="left:474.60px;width:600px;text-align:center;top:658.11px;font-size:16px;color:#fff;font-weight:700;transform:scaleX(0.935);transform-origin:50% 50%;">Off</div>
<div class="r" style="left:850.30px;top:638.75px;width:81.00px;height:56.00px;background:#EEEEEE;box-shadow:inset 0 0 0 1px #E0E0E0;border-radius:6px;"></div>
<div class="r" style="left:983.80px;top:638.75px;width:81.00px;height:56.00px;background:#EEEEEE;box-shadow:inset 0 0 0 1px #E0E0E0;border-radius:6px;"></div>
<div class="t" style="left:857.00px;top:659.05px;font-size:15px;color:#333;letter-spacing:0.5px;">-:--</div>
<div class="t" style="left:990.50px;top:659.05px;font-size:15px;color:#333;letter-spacing:0.5px;">-:--</div>
<div class="t" style="left:956.00px;top:658.65px;font-size:15px;-webkit-text-stroke:0.4px #222;color:#222;">To</div>
<svg style="left:1093.5px;top:655.35px" width="22" height="22" viewBox="0 0 22 22"><path d="M1.3 0.9 V20.3 H20.7 V0.9" fill="none" stroke="#D0284F" stroke-width="1.8"/><path d="M1.3 1.2 H20.7" fill="none" stroke="#D0284F" stroke-width="1.1" opacity="0.75"/><path d="M1.3 5.8 H20.7" fill="none" stroke="#D0284F" stroke-width="1.8"/><path d="M5.3 -0.6 V3.4 M16.7 -0.6 V3.4" fill="none" stroke="#D0284F" stroke-width="1.7"/><path d="M7.4 9.6 L14.8 16.6 M14.8 9.6 L7.4 16.6" fill="none" stroke="#D0284F" stroke-width="1.8"/></svg>
<div class="r" style="left:1167.90px;top:643.35px;width:64.00px;height:46.80px;background:#E4E4E4;border-radius:5px;"></div>
<div class="r" style="left:1239.60px;top:643.35px;width:43.70px;height:46.80px;background:#CE2B50;border-radius:5px;"></div>
<div class="t" style="left:900.00px;width:600px;text-align:center;top:658.11px;font-size:16px;color:#333;letter-spacing:-0.3px;-webkit-text-stroke:0.4px #333;">Break</div>
<div class="t" style="left:961.50px;width:600px;text-align:center;top:658.11px;font-size:16px;color:#fff;font-weight:700;transform:scaleX(0.95);transform-origin:50% 50%;">No</div>
<div class="r" style="left:1337.50px;top:646.75px;width:81.00px;height:40.00px;background:#EEEEEE;box-shadow:inset 0 0 0 1px #E0E0E0;border-radius:6px;"></div>
<div class="r" style="left:1458.30px;top:646.75px;width:81.00px;height:40.00px;background:#EEEEEE;box-shadow:inset 0 0 0 1px #E0E0E0;border-radius:6px;"></div>
<div class="t" style="left:1344.40px;top:659.05px;font-size:15px;color:#333;letter-spacing:0.5px;">-:--</div>
<div class="t" style="left:1465.50px;top:659.05px;font-size:15px;color:#333;letter-spacing:0.5px;">-:--</div>
<div class="t" style="left:1431.00px;top:658.65px;font-size:15px;-webkit-text-stroke:0.4px #222;color:#222;">To</div>
<div class="r" style="left:1589.30px;top:644.75px;width:192.20px;height:39.60px;background:#fff;box-shadow:inset 0 0 0 1px #DADADA;border-radius:6px;"></div>
<div class="t" style="left:1596.40px;top:656.45px;font-size:16.3px;-webkit-text-stroke:0.4px #A0A0A0;color:#A0A0A0;letter-spacing:-0.2px;">Reason</div>
<div class="r" style="left:1830px;top:649.45px;width:14px;height:35.5px;border:1px solid #DADADA;border-right:none;border-radius:4px 0 0 4px;background:#fff"></div>
<div class="t" style="left:530.40px;top:741.07px;font-size:14.8px;-webkit-text-stroke:0.4px #333;color:#333;transform:scaleX(0.9);transform-origin:0 50%;">FRIDAY</div>
<div class="r" style="left:662.30px;top:725.60px;width:82.40px;height:46.80px;background:#00A99A;border-radius:5px;"></div>
<div class="r" style="left:751.00px;top:725.60px;width:46.00px;height:46.80px;background:#E4E4E4;border-radius:5px;"></div>
<div class="t" style="left:403.40px;width:600px;text-align:center;top:740.36px;font-size:16px;color:#fff;font-weight:700;transform:scaleX(0.895);transform-origin:50% 50%;">Working</div>
<div class="t" style="left:474.60px;width:600px;text-align:center;top:740.36px;font-size:16px;color:#333;-webkit-text-stroke:0.4px #333;">Off</div>
<div class="r" style="left:850.30px;top:724.50px;width:81.00px;height:49.00px;background:#EEEEEE;box-shadow:inset 0 0 0 1px #E0E0E0;border-radius:6px;"></div>
<div class="r" style="left:983.80px;top:724.50px;width:81.00px;height:49.00px;background:#EEEEEE;box-shadow:inset 0 0 0 1px #E0E0E0;border-radius:6px;"></div>
<div class="t" style="left:857.00px;top:740.94px;font-size:17.2px;color:#333;">9:00 AM</div>
<div class="t" style="left:991.00px;top:740.94px;font-size:17.2px;color:#333;">6:30 PM</div>
<div class="t" style="left:956.00px;top:740.90px;font-size:15px;-webkit-text-stroke:0.4px #222;color:#222;">To</div>
<svg style="left:1093.5px;top:737.6px" width="22" height="22" viewBox="0 0 22 22"><path d="M1.3 0.9 V20.3 H20.7 V0.9" fill="none" stroke="#333" stroke-width="1.8"/><path d="M1.3 1.2 H20.7" fill="none" stroke="#333" stroke-width="1.1" opacity="0.75"/><path d="M1.3 5.8 H20.7" fill="none" stroke="#333" stroke-width="1.8"/><path d="M5.3 -0.6 V3.4 M16.7 -0.6 V3.4" fill="none" stroke="#333" stroke-width="1.7"/><path d="M7.4 9.6 L14.8 16.6 M14.8 9.6 L7.4 16.6" fill="none" stroke="#333" stroke-width="1.8"/></svg>
<div class="r" style="left:1167.90px;top:725.60px;width:64.00px;height:46.80px;background:#00A99A;border-radius:5px;"></div>
<div class="r" style="left:1239.60px;top:725.60px;width:43.70px;height:46.80px;background:#E4E4E4;border-radius:5px;"></div>
<div class="t" style="left:900.00px;width:600px;text-align:center;top:740.36px;font-size:16px;color:#fff;font-weight:700;transform:scaleX(0.91);transform-origin:50% 50%;">Break</div>
<div class="t" style="left:961.50px;width:600px;text-align:center;top:740.36px;font-size:16px;color:#333;-webkit-text-stroke:0.4px #333;">No</div>
<div class="r" style="left:1337.50px;top:729.00px;width:81.00px;height:40.00px;background:#EEEEEE;box-shadow:inset 0 0 0 1px #E0E0E0;border-radius:6px;"></div>
<div class="r" style="left:1458.30px;top:729.00px;width:81.00px;height:40.00px;background:#EEEEEE;box-shadow:inset 0 0 0 1px #E0E0E0;border-radius:6px;"></div>
<div class="t" style="left:1344.40px;top:741.34px;font-size:17.2px;color:#9A9A9A;">Start</div>
<div class="t" style="left:1465.50px;top:741.34px;font-size:17.2px;color:#9A9A9A;">End</div>
<div class="t" style="left:1431.00px;top:740.90px;font-size:15px;-webkit-text-stroke:0.4px #222;color:#222;">To</div>
<div class="r" style="left:1589.30px;top:727.00px;width:192.20px;height:39.60px;background:#fff;box-shadow:inset 0 0 0 1px #DADADA;border-radius:6px;"></div>
<div class="t" style="left:1596.40px;top:738.70px;font-size:16.3px;-webkit-text-stroke:0.4px #A0A0A0;color:#A0A0A0;letter-spacing:-0.2px;">Reason</div>
<div class="r" style="left:1830px;top:731.70px;width:14px;height:35.5px;border:1px solid #DADADA;border-right:none;border-radius:4px 0 0 4px;background:#fff"></div>
<div class="t" style="left:530.40px;top:821.32px;font-size:14.8px;-webkit-text-stroke:0.4px #333;color:#333;transform:scaleX(0.9);transform-origin:0 50%;">SATURDAY</div>
<div class="r" style="left:662.30px;top:805.85px;width:82.40px;height:46.80px;background:#00A99A;border-radius:5px;"></div>
<div class="r" style="left:751.00px;top:805.85px;width:46.00px;height:46.80px;background:#E4E4E4;border-radius:5px;"></div>
<div class="t" style="left:403.40px;width:600px;text-align:center;top:820.61px;font-size:16px;color:#fff;font-weight:700;transform:scaleX(0.895);transform-origin:50% 50%;">Working</div>
<div class="t" style="left:474.60px;width:600px;text-align:center;top:820.61px;font-size:16px;color:#333;-webkit-text-stroke:0.4px #333;">Off</div>
<div class="r" style="left:850.30px;top:804.75px;width:81.00px;height:49.00px;background:#EEEEEE;box-shadow:inset 0 0 0 1px #E0E0E0;border-radius:6px;"></div>
<div class="r" style="left:983.80px;top:804.75px;width:81.00px;height:49.00px;background:#EEEEEE;box-shadow:inset 0 0 0 1px #E0E0E0;border-radius:6px;"></div>
<div class="t" style="left:857.00px;top:821.19px;font-size:17.2px;color:#333;">9:00 AM</div>
<div class="t" style="left:991.00px;top:821.19px;font-size:17.2px;color:#333;">6:00 PM</div>
<div class="t" style="left:956.00px;top:821.15px;font-size:15px;-webkit-text-stroke:0.4px #222;color:#222;">To</div>
<svg style="left:1093.5px;top:817.85px" width="22" height="22" viewBox="0 0 22 22"><path d="M1.3 0.9 V20.3 H20.7 V0.9" fill="none" stroke="#333" stroke-width="1.8"/><path d="M1.3 1.2 H20.7" fill="none" stroke="#333" stroke-width="1.1" opacity="0.75"/><path d="M1.3 5.8 H20.7" fill="none" stroke="#333" stroke-width="1.8"/><path d="M5.3 -0.6 V3.4 M16.7 -0.6 V3.4" fill="none" stroke="#333" stroke-width="1.7"/><path d="M7.4 9.6 L14.8 16.6 M14.8 9.6 L7.4 16.6" fill="none" stroke="#333" stroke-width="1.8"/></svg>
<div class="r" style="left:1167.90px;top:805.85px;width:64.00px;height:46.80px;background:#00A99A;border-radius:5px;"></div>
<div class="r" style="left:1239.60px;top:805.85px;width:43.70px;height:46.80px;background:#E4E4E4;border-radius:5px;"></div>
<div class="t" style="left:900.00px;width:600px;text-align:center;top:820.61px;font-size:16px;color:#fff;font-weight:700;transform:scaleX(0.91);transform-origin:50% 50%;">Break</div>
<div class="t" style="left:961.50px;width:600px;text-align:center;top:820.61px;font-size:16px;color:#333;-webkit-text-stroke:0.4px #333;">No</div>
<div class="r" style="left:1337.50px;top:809.25px;width:81.00px;height:40.00px;background:#EEEEEE;box-shadow:inset 0 0 0 1px #E0E0E0;border-radius:6px;"></div>
<div class="r" style="left:1458.30px;top:809.25px;width:81.00px;height:40.00px;background:#EEEEEE;box-shadow:inset 0 0 0 1px #E0E0E0;border-radius:6px;"></div>
<div class="t" style="left:1344.40px;top:821.59px;font-size:17.2px;color:#9A9A9A;">Start</div>
<div class="t" style="left:1465.50px;top:821.59px;font-size:17.2px;color:#9A9A9A;">End</div>
<div class="t" style="left:1431.00px;top:821.15px;font-size:15px;-webkit-text-stroke:0.4px #222;color:#222;">To</div>
<div class="r" style="left:1589.30px;top:807.25px;width:192.20px;height:39.60px;background:#fff;box-shadow:inset 0 0 0 1px #DADADA;border-radius:6px;"></div>
<div class="t" style="left:1596.40px;top:818.95px;font-size:16.3px;-webkit-text-stroke:0.4px #A0A0A0;color:#A0A0A0;letter-spacing:-0.2px;">Reason</div>
<div class="r" style="left:1830px;top:811.95px;width:14px;height:35.5px;border:1px solid #DADADA;border-right:none;border-radius:4px 0 0 4px;background:#fff"></div>
<div class="r" style="left:1830px;top:262px;width:14px;height:26px;overflow:hidden"><div class="t" style="left:0.70px;top:5.50px;font-size:14.3px;-webkit-text-stroke:0.4px #858585;color:#858585;">As</div>
</div>
<div class="r" style="left:505.50px;top:868.60px;width:1338.50px;height:2.20px;background:#DCDCDC;"></div>
<div class="r" style="left:505.50px;top:871.00px;width:1338.50px;height:21.70px;background:#F1F1F1;"></div>
<div class="r" style="left:528.00px;top:873.00px;width:1123.00px;height:18.00px;background:#C1C1C1;"></div>
<svg style="left:512px;top:875px" width="12" height="14"><path d="M8 2 L2.5 7 L8 12 Z" fill="#A3A3A3"/></svg>
<svg style="left:1827px;top:875px" width="12" height="14"><path d="M3 2 L8.8 7 L3 12 Z" fill="#505050"/></svg>
<div class="r" style="left:529px;top:922px;width:16px;height:16px;border:1.2px solid #777;border-radius:3px;background:#fff"></div>
<div class="t" style="left:553.50px;top:924.06px;font-size:16.7px;color:#333;">Enable alternating schedule</div>
<svg style="left:784px;top:921px" width="24" height="22" viewBox="0 0 24 22"><path d="M5.6 10.5 A8 8 0 1 1 10 18.2" fill="none" stroke="#222" stroke-width="2"/><path d="M1.6 10 L9.6 10 L5.6 14.5 Z" fill="#222"/><path d="M13.6 6 V11.4 H17.6" fill="none" stroke="#222" stroke-width="2"/></svg>
<div class="t" style="left:815.00px;top:923.83px;font-size:16.5px;color:#333;">Preset a schedule change</div>
<div class="r" style="left:1753.90px;top:917.90px;width:65.30px;height:38.80px;background:#52B4A0;border-radius:6px;"></div>
<div class="t" style="left:1487.00px;width:600px;text-align:center;top:926.63px;font-size:17.8px;color:#fff;font-weight:700;transform:scaleX(0.87);transform-origin:50% 50%;">Save</div>
</body></html>
